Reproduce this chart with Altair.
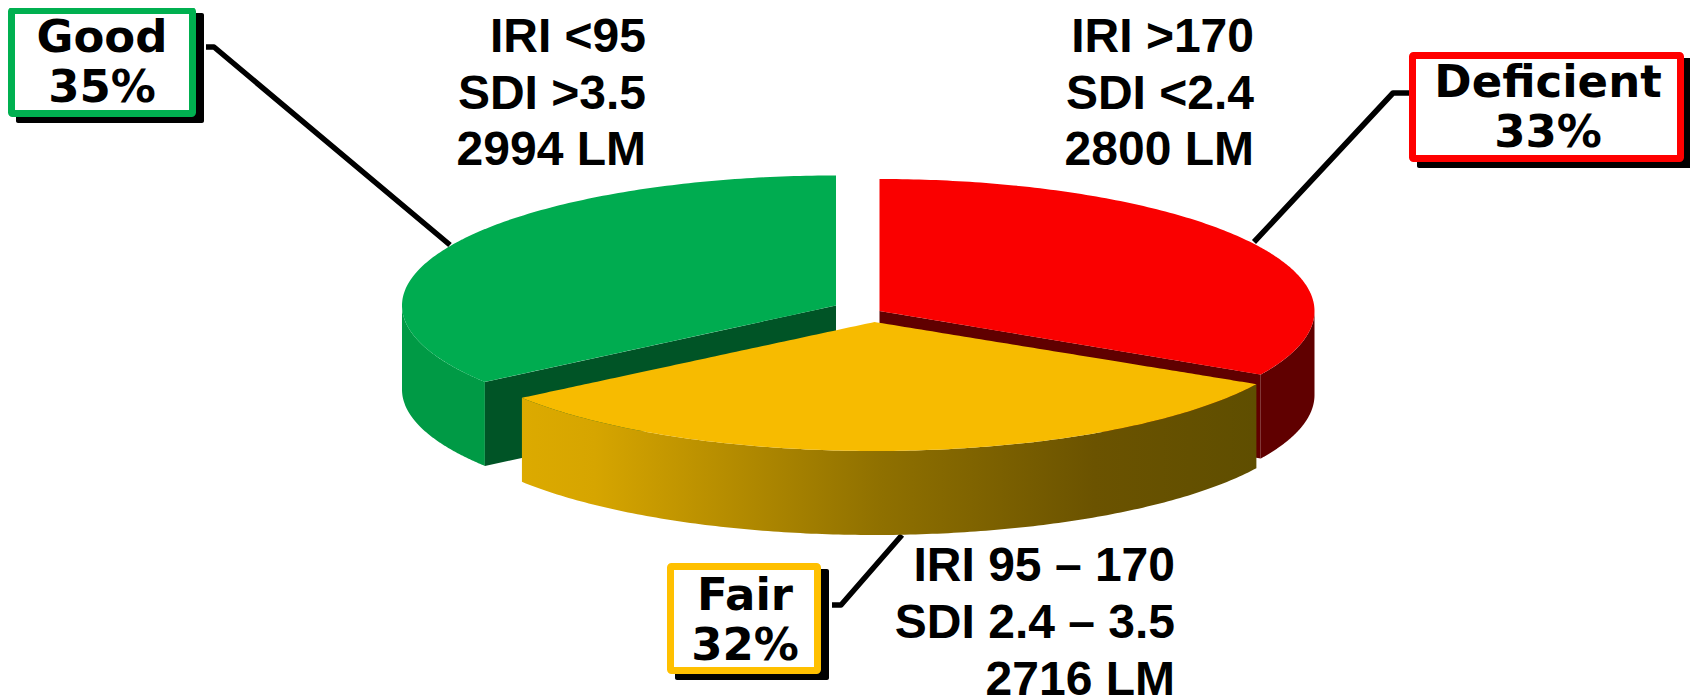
import numpy as np
import pandas as pd
import altair as alt

categories = ["Good", "Deficient", "Fair"]
shares = [35, 33, 32]
conditions = [
    "IRI <95\nSDI >3.5\n2994 LM",
    "IRI >170\nSDI <2.4\n2800 LM",
    "IRI 95 \u2013 170\nSDI 2.4 \u2013 3.5\n2716 LM",
]

W, H = 1682, 689
xs = alt.Scale(domain=[8, 1690], range=[0, W])
ys = alt.Scale(domain=[697, 8], range=[H, 0])
DEPTH = 84
FONT = "Liberation Sans"
WIDE = "DejaVu Sans"

# wedge angles (clockwise from 12 o'clock) follow from the shares
sweep = np.array(shares) * 3.6
green_end = 360 - sweep[0]
red_end = sweep[1]


def arc(cx, cy, rx, ry, a0, a1, n=160):
    t = np.radians(np.linspace(a0, a1, n))
    return [(cx + rx * np.sin(a), cy - ry * np.cos(a)) for a in t]


def band(points):
    """Turn a polygon into an upper/lower envelope for an area mark."""
    pts = list(points)
    edges = list(zip(pts, pts[1:] + pts[:1]))
    rows = []
    for x in sorted({round(p[0], 3) for p in pts}):
        hits = []
        for (x0, y0), (x1, y1) in edges:
            lo, hi = min(x0, x1) - 0.002, max(x0, x1) + 0.002
            if lo <= x <= hi:
                if abs(x1 - x0) < 0.004:
                    hits += [y0, y1]
                else:
                    hits.append(y0 + (y1 - y0) * (x - x0) / (x1 - x0))
        if hits:
            rows.append({"x": x, "y": min(hits), "y2": max(hits)})
    return pd.DataFrame(rows)


def shape(points, fill):
    return alt.Chart(band(points)).mark_area(color=fill, interpolate="linear", line=False).encode(
        x=alt.X("x:Q", scale=xs, axis=None),
        y=alt.Y("y:Q", scale=ys, axis=None),
        y2="y2:Q",
    )


def top(c, a0, a1):
    return [c[:2]] + arc(*c, a0, a1)


def side_wall(c, a0, a1):
    a = arc(*c, a0, a1)
    return a + [(x, y + DEPTH) for x, y in reversed(a)]


def cut_wall(c, a):
    p = arc(*c, a, a, 1)[0]
    ax, ay = c[:2]
    return [(ax, ay), p, (p[0], p[1] + DEPTH), (ax, ay + DEPTH)]


def leader(points):
    d = pd.DataFrame({"x": [p[0] for p in points], "y": [p[1] for p in points], "i": range(len(points))})
    return alt.Chart(d).mark_line(color="black", strokeWidth=5.5, strokeJoin="round").encode(
        x=alt.X("x:Q", scale=xs, axis=None),
        y=alt.Y("y:Q", scale=ys, axis=None),
        order="i:Q",
    )


def box(x0, y0, x1, y1, colour):
    one = pd.DataFrame({"k": [0]})
    shadow = alt.Chart(one).mark_rect(color="black", cornerRadius=2).encode(
        x=alt.value(x0 + 8 - 8), x2=alt.value(x1 + 8 - 8),
        y=alt.value(y0 + 6 - 8), y2=alt.value(y1 + 6 - 8),
    )
    face = alt.Chart(one).mark_rect(fill="white", stroke=colour, strokeWidth=7, cornerRadius=1).encode(
        x=alt.value(x0 + 3.5 - 8), x2=alt.value(x1 - 3.5 - 8),
        y=alt.value(y0 + 3.5 - 8), y2=alt.value(y1 - 3.5 - 8),
    )
    return shadow + face


def label(text, x, y, size, font, align="center", height=None):
    one = pd.DataFrame({"t": [text]})
    kw = {"lineHeight": height} if height else {}
    return alt.Chart(one).mark_text(
        font=font, fontSize=size, fontWeight="bold", color="black",
        align=align, baseline="alphabetic", lineBreak="\n", **kw
    ).encode(x=alt.value(x - 8), y=alt.value(y - 8), text="t:N")


green = (836, 305.5, 434, 130)
red = (879.5, 311, 435, 132)
gold = (874.5, 322, 435.8, 129)

gold_wall = alt.Chart(band(side_wall(gold, red_end, green_end))).mark_area(
    interpolate="linear",
    color=alt.Gradient(
        gradient="linear", x1=0, x2=1, y1=0, y2=0,
        stops=[
            alt.GradientStop(color="#DCAA00", offset=0.0),
            alt.GradientStop(color="#D6A500", offset=0.1),
            alt.GradientStop(color="#8F7000", offset=0.49),
            alt.GradientStop(color="#6B5300", offset=0.78),
            alt.GradientStop(color="#5F4E00", offset=1.0),
        ],
    ),
).encode(
    x=alt.X("x:Q", scale=xs, axis=None),
    y=alt.Y("y:Q", scale=ys, axis=None),
    y2="y2:Q",
)

chart = alt.layer(
    leader([(206, 47), (214, 47), (450, 245)]),
    leader([(1409, 93), (1393, 93), (1254, 242)]),
    leader([(832, 605), (841, 605), (902, 535)]),
    shape(side_wall(green, green_end, 270), "#009A45"),
    shape(cut_wall(green, green_end), "#005426"),
    shape(top(green, green_end, 360), "#00AC50"),
    shape(side_wall(red, 90, red_end), "#600000"),
    shape(cut_wall(red, red_end), "#600000"),
    shape(top(red, 0, red_end), "#FA0000"),
    gold_wall,
    shape(top(gold, red_end, green_end), "#F7BB00"),
    box(8, 7, 196, 117, "#00B050"),
    box(1409, 52, 1684, 162, "#FF0000"),
    box(667, 563, 821, 674, "#FFC000"),
    label(f"{categories[0]}\n{shares[0]}%", 102, 52, 45, WIDE, height=50),
    label(f"{categories[1]}\n{shares[1]}%", 1548, 97, 45, WIDE, height=50),
    label(f"{categories[2]}\n{shares[2]}%", 745, 610, 45, WIDE, height=50),
    label(conditions[0], 646, 52, 48, FONT, "right", 56.5),
    label(conditions[1], 1254, 52, 48, FONT, "right", 56.5),
    label(conditions[2], 1175, 581, 48, FONT, "right", 57),
).properties(
    width=W, height=H, padding=0, autosize=alt.AutoSizeParams(type="none"), background="white"
).configure_view(stroke=None)

chart.save("out.html", embed_options={"renderer": "svg", "actions": False})
